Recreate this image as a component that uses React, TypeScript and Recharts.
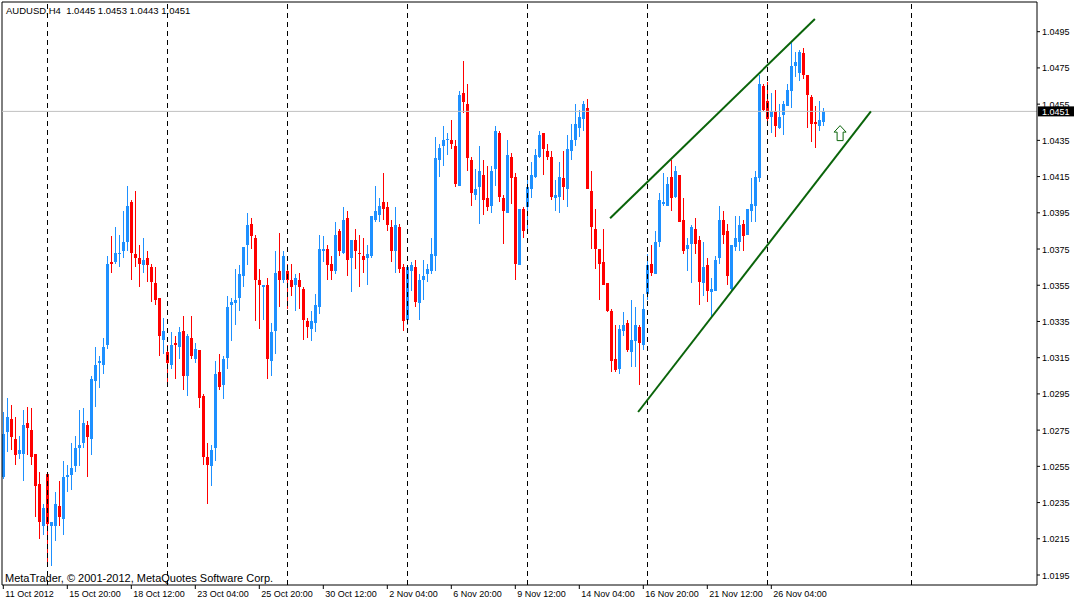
import React from "react";
import {
  ComposedChart,
  Bar,
  XAxis,
  YAxis,
  ReferenceLine,
  ReferenceDot,
} from "recharts";

// AUDUSD H4 candles, one entry per bar
const opens = [
  1.0249, 1.0274, 1.0281, 1.027, 1.0262, 1.0262, 1.0279, 1.0275, 1.0262, 1.0245,
  1.0222, 1.0251, 1.0222, 1.0222, 1.0233, 1.0226, 1.0249, 1.025, 1.0255, 1.0265,
  1.0268, 1.0278, 1.027, 1.0302, 1.0312, 1.0311, 1.0322, 1.0368, 1.0368, 1.0372,
  1.0374, 1.0379, 1.0401, 1.0372, 1.037, 1.0366, 1.037, 1.0365, 1.0356, 1.0348,
  1.0325, 1.0318, 1.0311, 1.0323, 1.0321, 1.033, 1.0305, 1.0326, 1.0314, 1.0319,
  1.0294, 1.026, 1.0255, 1.0265, 1.0307, 1.03, 1.0315, 1.0344, 1.0345, 1.0348,
  1.036, 1.0377, 1.0389, 1.0381, 1.0358, 1.0354, 1.0355, 1.0313, 1.033, 1.0363,
  1.0358, 1.0363, 1.0358, 1.0355, 1.0358, 1.0353, 1.0335, 1.0331, 1.0334, 1.0343,
  1.0374, 1.0375, 1.0367, 1.0363, 1.0385, 1.0373, 1.0392, 1.037, 1.038, 1.0373,
  1.0371, 1.037, 1.0371, 1.0391, 1.0394, 1.0401, 1.0398, 1.0387, 1.0374, 1.0387,
  1.0365, 1.0336, 1.0363, 1.0365, 1.0345, 1.0358, 1.0361, 1.0363, 1.0371, 1.0424,
  1.0432, 1.0435, 1.0435, 1.0432, 1.041, 1.0461, 1.0455, 1.0424, 1.0405, 1.0409,
  1.0416, 1.0403, 1.0399, 1.0419, 1.0439, 1.0403, 1.0395, 1.0426, 1.0415, 1.0366,
  1.0397, 1.0398, 1.0408, 1.0415, 1.0426, 1.0439, 1.0429, 1.0426, 1.0403, 1.0404,
  1.0414, 1.0408, 1.0429, 1.0435, 1.0442, 1.0447, 1.0453, 1.0407, 1.0386, 1.0375,
  1.0368, 1.0356, 1.0341, 1.0314, 1.0309, 1.033, 1.0334, 1.0318, 1.0324, 1.0332,
  1.0322, 1.035, 1.0367, 1.0361, 1.0379, 1.04, 1.0399, 1.0415, 1.0404, 1.0416,
  1.0391, 1.0375, 1.0378, 1.0386, 1.038, 1.0356, 1.0366, 1.0351, 1.0352, 1.037,
  1.0391, 1.0385, 1.0353, 1.0376, 1.0379, 1.0389, 1.0383, 1.0396, 1.0399, 1.0414,
  1.0465, 1.0457, 1.0448, 1.0451, 1.0442, 1.0449, 1.0454, 1.0462, 1.0476, 1.0472,
  1.0483, 1.0471, 1.0459, 1.0445, 1.0443, 1.0445,
];
const highs = [
  1.0285, 1.0293, 1.0289, 1.0282, 1.0272, 1.0286, 1.0288, 1.0287, 1.0262, 1.0252,
  1.0234, 1.0251, 1.0224, 1.0241, 1.0247, 1.0258, 1.0256, 1.0268, 1.0272, 1.0286,
  1.0287, 1.028, 1.0305, 1.0321, 1.0316, 1.0326, 1.0371, 1.0382, 1.0387, 1.0383,
  1.0396, 1.041, 1.0402, 1.0407, 1.0377, 1.0381, 1.0374, 1.0367, 1.0365, 1.0348,
  1.0337, 1.0322, 1.0329, 1.0327, 1.0332, 1.0338, 1.0328, 1.0338, 1.0323, 1.0319,
  1.0295, 1.0268, 1.0267, 1.0313, 1.0317, 1.0316, 1.0349, 1.0348, 1.0364, 1.0366,
  1.0376, 1.0395, 1.0392, 1.0383, 1.0364, 1.0355, 1.0359, 1.0334, 1.0374, 1.0384,
  1.0374, 1.0367, 1.0367, 1.0361, 1.0362, 1.0354, 1.0337, 1.0341, 1.035, 1.0383,
  1.0382, 1.0377, 1.0371, 1.039, 1.0386, 1.0398, 1.0396, 1.038, 1.0386, 1.0383,
  1.0381, 1.0377, 1.0393, 1.041, 1.0403, 1.0417, 1.0401, 1.0391, 1.0398, 1.0389,
  1.0367, 1.0366, 1.0368, 1.0369, 1.0361, 1.0369, 1.0367, 1.0381, 1.0437, 1.0433,
  1.0443, 1.0439, 1.0446, 1.0435, 1.0462, 1.0479, 1.0466, 1.0426, 1.0419, 1.0432,
  1.0424, 1.0421, 1.0421, 1.0443, 1.044, 1.0405, 1.0435, 1.0428, 1.0417, 1.0397,
  1.0398, 1.0416, 1.0423, 1.043, 1.044, 1.0439, 1.0433, 1.0429, 1.0413, 1.0423,
  1.0429, 1.0438, 1.0444, 1.0455, 1.0452, 1.0457, 1.0458, 1.0418, 1.0397, 1.0375,
  1.0386, 1.0356, 1.0342, 1.0333, 1.0333, 1.034, 1.0336, 1.0347, 1.0343, 1.0333,
  1.035, 1.0372, 1.0377, 1.0385, 1.0406, 1.0417, 1.0415, 1.0424, 1.0421, 1.0416,
  1.0403, 1.0381, 1.0388, 1.0392, 1.0382, 1.0379, 1.037, 1.0359, 1.0371, 1.0399,
  1.0396, 1.0389, 1.0377, 1.0393, 1.0393, 1.0391, 1.0397, 1.0414, 1.0418, 1.0471,
  1.0466, 1.0467, 1.0461, 1.0463, 1.0455, 1.0457, 1.0466, 1.0489, 1.0484, 1.0485,
  1.0486, 1.0471, 1.046, 1.0454, 1.0457, 1.0453,
];
const lows = [
  1.0248, 1.0263, 1.0264, 1.0256, 1.0259, 1.0247, 1.0261, 1.0256, 1.0227, 1.0215,
  1.0217, 1.02, 1.02, 1.0214, 1.0222, 1.0217, 1.0241, 1.0242, 1.0252, 1.0255,
  1.0265, 1.0249, 1.0261, 1.0288, 1.0298, 1.0306, 1.032, 1.0362, 1.0367, 1.0365,
  1.037, 1.0374, 1.0358, 1.0365, 1.0354, 1.0362, 1.0357, 1.0346, 1.0344, 1.0316,
  1.0317, 1.0299, 1.0309, 1.0303, 1.0314, 1.0297, 1.0294, 1.0314, 1.0312, 1.0287,
  1.0256, 1.0234, 1.0244, 1.0258, 1.0297, 1.0292, 1.0309, 1.0324, 1.0333, 1.0341,
  1.0354, 1.0366, 1.0375, 1.0335, 1.0331, 1.0336, 1.0303, 1.0305, 1.0317, 1.0343,
  1.0356, 1.0342, 1.0349, 1.0341, 1.0342, 1.0325, 1.0326, 1.0324, 1.0329, 1.0339,
  1.0368, 1.0358, 1.0358, 1.0361, 1.0371, 1.0372, 1.036, 1.0351, 1.0364, 1.0354,
  1.0362, 1.0355, 1.037, 1.039, 1.039, 1.0391, 1.0385, 1.0368, 1.0362, 1.0362,
  1.033, 1.0333, 1.0352, 1.0343, 1.0336, 1.0347, 1.0357, 1.0361, 1.0363, 1.0415,
  1.0421, 1.0427, 1.043, 1.0409, 1.041, 1.045, 1.0418, 1.0399, 1.0402, 1.0389,
  1.0394, 1.0396, 1.0395, 1.041, 1.0401, 1.0378, 1.0395, 1.04, 1.0358, 1.0366,
  1.0381, 1.0385, 1.0403, 1.0414, 1.0425, 1.0416, 1.0424, 1.0402, 1.0396, 1.0395,
  1.0402, 1.0398, 1.0424, 1.0432, 1.0437, 1.044, 1.0408, 1.0375, 1.0364, 1.0347,
  1.0355, 1.034, 1.0307, 1.0307, 1.0306, 1.0327, 1.0318, 1.031, 1.031, 1.03,
  1.0319, 1.0347, 1.036, 1.0361, 1.0376, 1.0399, 1.0399, 1.0396, 1.0403, 1.039,
  1.0372, 1.0363, 1.0356, 1.0372, 1.0344, 1.0349, 1.0346, 1.0338, 1.0352, 1.0367,
  1.0378, 1.0355, 1.0351, 1.0374, 1.0374, 1.0374, 1.0383, 1.039, 1.039, 1.0412,
  1.0451, 1.0443, 1.0439, 1.0437, 1.0441, 1.0438, 1.0454, 1.0453, 1.047, 1.0468,
  1.0469, 1.0442, 1.0434, 1.0431, 1.044, 1.0443,
];
const closes = [
  1.0273, 1.0282, 1.0271, 1.0261, 1.0264, 1.0278, 1.0276, 1.026, 1.0244, 1.0224,
  1.0232, 1.0223, 1.0224, 1.0234, 1.0227, 1.0249, 1.025, 1.0254, 1.0265, 1.0267,
  1.0279, 1.0271, 1.0303, 1.0311, 1.0313, 1.0321, 1.0367, 1.0367, 1.0373, 1.0373,
  1.0379, 1.0399, 1.0373, 1.037, 1.0367, 1.0369, 1.0366, 1.0357, 1.0347, 1.0327,
  1.033, 1.0312, 1.0322, 1.0322, 1.0329, 1.0305, 1.0327, 1.0316, 1.032, 1.0293,
  1.026, 1.0256, 1.0264, 1.0306, 1.0299, 1.0314, 1.0343, 1.0346, 1.0347, 1.0361,
  1.0376, 1.0388, 1.0382, 1.0358, 1.0355, 1.0355, 1.0314, 1.0329, 1.0362, 1.0358,
  1.0371, 1.0358, 1.0354, 1.0359, 1.0354, 1.0336, 1.0332, 1.0335, 1.0344, 1.0375,
  1.0375, 1.0366, 1.0363, 1.0383, 1.0374, 1.0391, 1.0369, 1.038, 1.0374, 1.0372,
  1.0369, 1.0372, 1.0393, 1.0396, 1.0399, 1.0397, 1.0388, 1.0374, 1.0388, 1.0364,
  1.0335, 1.0365, 1.0366, 1.0346, 1.0358, 1.036, 1.0364, 1.0372, 1.0425, 1.0431,
  1.0435, 1.0436, 1.0433, 1.0411, 1.046, 1.0456, 1.0425, 1.0406, 1.0408, 1.0418,
  1.0402, 1.0398, 1.0418, 1.044, 1.0404, 1.0396, 1.0427, 1.0414, 1.0367, 1.0397,
  1.0385, 1.0409, 1.0416, 1.0427, 1.0438, 1.043, 1.0426, 1.0404, 1.0405, 1.0415,
  1.0409, 1.043, 1.0435, 1.0444, 1.0448, 1.0455, 1.0408, 1.0387, 1.0375, 1.0367,
  1.0355, 1.0341, 1.0313, 1.0308, 1.0331, 1.0333, 1.0319, 1.0325, 1.0333, 1.0323,
  1.0342, 1.0366, 1.0362, 1.0379, 1.0402, 1.0401, 1.0411, 1.0403, 1.0418, 1.039,
  1.0374, 1.0377, 1.0387, 1.0378, 1.0357, 1.0365, 1.0352, 1.0353, 1.0369, 1.0391,
  1.0383, 1.036, 1.0377, 1.0381, 1.0388, 1.0382, 1.0397, 1.04, 1.0415, 1.0466,
  1.0452, 1.0447, 1.0451, 1.0443, 1.0448, 1.0455, 1.0463, 1.0476, 1.0478, 1.0484,
  1.0471, 1.046, 1.0444, 1.0444, 1.0446, 1.0451,
];

// time axis: bar index of each label
const timeTicks = [0, 16, 32, 48, 64, 80, 96, 112, 128, 144, 160, 176, 192];
const timeLabels = [
  "11 Oct 2012",
  "15 Oct 20:00",
  "18 Oct 12:00",
  "23 Oct 04:00",
  "25 Oct 20:00",
  "30 Oct 12:00",
  "2 Nov 04:00",
  "6 Nov 20:00",
  "9 Nov 12:00",
  "14 Nov 04:00",
  "16 Nov 20:00",
  "21 Nov 12:00",
  "26 Nov 04:00",
];
const priceTicks = [
  1.0195, 1.0215, 1.0235, 1.0255, 1.0275, 1.0295, 1.0315, 1.0335, 1.0355,
  1.0375, 1.0395, 1.0415, 1.0435, 1.0455, 1.0475, 1.0495,
];
// weekly period separators (bar index of the Monday open)
const weekStarts = [11, 41, 71, 101, 131, 161, 191, 227];
const bidPrice = 1.0451;
const upperChannel = [
  { x: 151.7, y: 1.0392 },
  { x: 202.9, y: 1.0502 },
];
const lowerChannel = [
  { x: 158.7, y: 1.0285 },
  { x: 216.9, y: 1.0451 },
];
const arrowMark = { x: 209.2, y: 1.0439 };

const X_DOMAIN: [number, number] = [-0.325, 258.425];
const Y_DOMAIN: [number, number] = [1.018948, 1.05114];

const BULL = "#1E90FF";
const BEAR = "#FF0000";
const TREND = "#0A640A";
const FONT = "'Liberation Sans', Arial, sans-serif";

const candles = opens.map((o, i) => ({
  i,
  open: o,
  high: highs[i],
  low: lows[i],
  close: closes[i],
}));

function Candle(props: any) {
  const { x, y, width, height, payload } = props;
  if (payload == null || x == null) return null;
  const { open, close, high, low } = payload;
  const color = close >= open ? BULL : BEAR;
  const top = Math.min(y, y + height);
  const h = Math.abs(height);
  const k = high > low ? h / (high - low) : 0;
  const cx = Math.round(x + width / 2) + 0.5;
  const bodyTop = top + (high - Math.max(open, close)) * k;
  const bodyH = Math.max(1, Math.abs(close - open) * k);
  return (
    <g shapeRendering="crispEdges">
      <line x1={cx} x2={cx} y1={top} y2={top + h} stroke={color} strokeWidth={1} />
      <rect x={cx - 1.5} y={bodyTop} width={3} height={bodyH} fill={color} />
    </g>
  );
}

function TimeTick(props: any) {
  const { x, y, payload } = props;
  const idx = timeTicks.indexOf(payload.value);
  return (
    <text x={x + 2} y={y + 8} fontSize={9} fontFamily={FONT} fill="#000" textAnchor="start">
      {timeLabels[idx]}
    </text>
  );
}

function PriceTick(props: any) {
  const { x, y, payload } = props;
  return (
    <text x={x + 2} y={y + 3.5} fontSize={9} fontFamily={FONT} fill="#000" textAnchor="start">
      {Number(payload.value).toFixed(4)}
    </text>
  );
}

function BidLabel(props: any) {
  const vb = props.viewBox;
  if (!vb) return null;
  const left = vb.x + vb.width + 1;
  return (
    <g>
      <rect x={left} y={vb.y - 5} width={36} height={10} fill="#000" />
      <text x={left + 4} y={vb.y + 3.5} fontSize={9} fontFamily={FONT} fill="#fff">
        {bidPrice.toFixed(4)}
      </text>
    </g>
  );
}

function UpArrow(props: any) {
  const { cx, cy } = props;
  if (cx == null) return null;
  const d = `M${cx},${cy - 7.5} L${cx + 6},${cy - 1} L${cx + 3},${cy - 1} L${cx + 3},${cy + 7.5} L${cx - 3},${cy + 7.5} L${cx - 3},${cy - 1} L${cx - 6},${cy - 1} Z`;
  return <path d={d} fill="#fff" stroke={TREND} strokeWidth={1} />;
}

export default function App() {
  return (
    <div
      style={{
        position: "absolute",
        left: 0,
        top: 0,
        width: 1075,
        height: 602,
        background: "#fff",
        overflow: "hidden",
      }}
    >
      <ComposedChart
        width={1075}
        height={602}
        data={candles}
        margin={{ top: 2, right: 0, left: 2, bottom: 0 }}
      >
        <XAxis
          dataKey="i"
          type="number"
          domain={X_DOMAIN}
          allowDataOverflow
          ticks={timeTicks}
          interval={0}
          height={17}
          tickSize={4}
          tickMargin={0}
          tick={<TimeTick />}
          axisLine={{ stroke: "#000" }}
          tickLine={{ stroke: "#000" }}
        />
        <YAxis
          orientation="right"
          type="number"
          domain={Y_DOMAIN}
          allowDataOverflow
          ticks={priceTicks}
          interval={0}
          width={38}
          tickSize={3}
          tickMargin={0}
          tick={<PriceTick />}
          axisLine={{ stroke: "#000" }}
          tickLine={{ stroke: "#000" }}
        />
        <ReferenceLine x={X_DOMAIN[0]} stroke="#000" ifOverflow="visible" />
        <ReferenceLine y={Y_DOMAIN[1]} stroke="#000" ifOverflow="visible" />
        {weekStarts.map((w) => (
          <ReferenceLine
            key={w}
            x={w}
            stroke="#000"
            strokeDasharray="5 4"
            shapeRendering="crispEdges"
          />
        ))}
        <ReferenceLine y={bidPrice} stroke="#C0C0C0" label={<BidLabel />} />
        <Bar
          dataKey={(d: any) => [d.low, d.high]}
          barSize={3}
          shape={<Candle />}
          isAnimationActive={false}
        />
        <ReferenceLine segment={upperChannel} stroke={TREND} strokeWidth={2} ifOverflow="visible" />
        <ReferenceLine segment={lowerChannel} stroke={TREND} strokeWidth={2} ifOverflow="visible" />
        <ReferenceDot
          x={arrowMark.x}
          y={arrowMark.y}
          r={6}
          shape={<UpArrow />}
          ifOverflow="visible"
        />
      </ComposedChart>
      <svg
        width={1075}
        height={602}
        style={{ position: "absolute", left: 0, top: 0, pointerEvents: "none" }}
      >
        <text x={6} y={14} fontSize={9.5} fontFamily={FONT} fill="#000" style={{ whiteSpace: "pre" }}>
          {"AUDUSD,H4  1.0445 1.0453 1.0443 1.0451"}
        </text>
        <text x={5} y={582} fontSize={11} fontFamily={FONT} fill="#000">
          MetaTrader, © 2001-2012, MetaQuotes Software Corp.
        </text>
      </svg>
    </div>
  );
}
